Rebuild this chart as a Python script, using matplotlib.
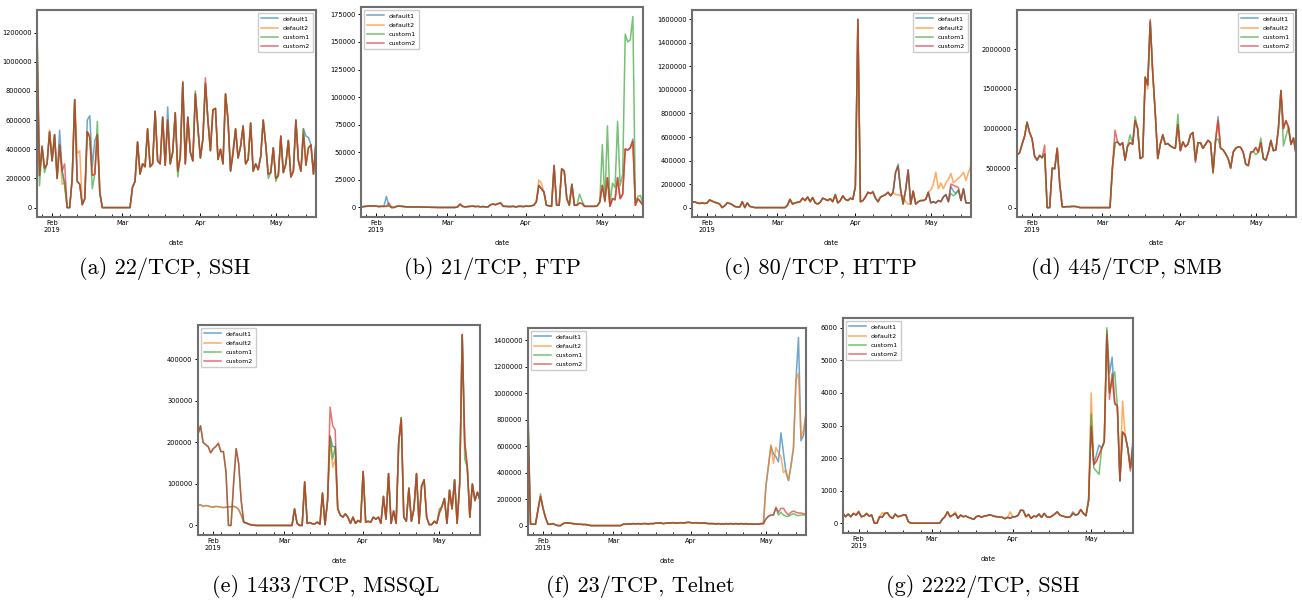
import numpy as np
import pandas as pd
import matplotlib
matplotlib.use('Agg')
import matplotlib.pyplot as plt
import matplotlib.dates as mdates
import matplotlib.ticker as mticker

start = '2019-01-26'
names = ['default1', 'default2', 'custom1', 'custom2']

# (a) 22/TCP, SSH -- thousands
ssh22_base = [1200, 220, 420, 270, 300, 520, 320, 500, 200, 430,
              250, 170, 0, 0, 200, 740, 180, 160, 20, 60,
              520, 480, 220, 230, 500, 100, 0, 0, 0, 0,
              0, 0, 0, 0, 0, 0, 0, 0, 140, 180,
              450, 230, 300, 280, 540, 280, 300, 660, 320, 300,
              620, 290, 600, 300, 380, 650, 250, 350, 860, 300,
              620, 380, 320, 780, 550, 340, 470, 850, 600, 390,
              670, 680, 330, 400, 300, 780, 600, 250, 370, 540,
              340, 420, 560, 300, 330, 580, 250, 300, 260, 350,
              600, 430, 230, 240, 410, 200, 220, 490, 240, 300,
              460, 210, 250, 600, 320, 250, 540, 290, 410, 430, 230, 450]
ssh22_fix = {
    'default1': {9: 530, 20: 600, 21: 630, 22: 280, 23: 460, 52: 690, 78: 400,
                 106: 540, 107: 490, 108: 480},
    'default2': {0: 1290, 5: 530, 10: 160, 16: 370, 17: 390, 21: 500},
    'custom1': {1: 150, 3: 240, 11: 150, 22: 130, 24: 590, 56: 210, 63: 800,
                92: 200, 95: 180},
    'custom2': {0: 1100, 11: 300, 67: 890, 106: 500},
}

# (b) 21/TCP, FTP -- thousands
ftp21_base = [0.5, 0.8, 1.0, 1.2, 1.3, 1.4, 1.2, 0.8, 1.0, 1.0,
              1.0, 1.5, 0, 0, 1.0, 1.2, 1.0, 0.8, 0.5, 0.5,
              0.5, 0.4, 0.4, 0.5, 0.3, 0.3, 0.2, 0.2, 0.1, 0.1,
              0, 0, 0, 0, 0, 0, 0, 0, 0.5, 2.5,
              1.0, 0.5, 0.8, 1.0, 1.2, 0.8, 1.0, 0.6, 0.8, 0.5,
              0.5, 2.5, 3.0, 2.5, 3.5, 4.0, 1.0, 1.0, 0.8, 0.8,
              1.0, 0.5, 1.0, 1.0, 0.8, 1.2, 1.0, 1.5, 2.0, 5.0,
              20, 17, 14, 2, 1.5, 1.0, 38, 2, 2, 35,
              33, 8, 2, 21, 2, 2, 4, 3.5, 1.0, 1.0,
              1.0, 1.0, 1.0, 1.5, 5, 20, 6, 27, 1, 8,
              7, 27, 8, 12, 53, 52, 54, 60, 2, 8, 5, 2]
ftp21_fix = {
    'default1': {10: 10, 107: 62},
    'default2': {70: 25, 71: 22},
    'custom1': {86: 12, 87: 6, 94: 5, 95: 57, 96: 5, 97: 74, 98: 3, 99: 22,
                100: 18, 101: 78, 102: 20, 103: 30, 104: 157, 105: 150,
                106: 152, 107: 173, 108: 5, 109: 10, 110: 11},
    'custom2': {11: 4, 39: 3.5},
}

# (c) 80/TCP, HTTP -- thousands
http80_base = [45, 50, 40, 35, 40, 35, 40, 65, 55, 45,
               40, 30, 0, 15, 40, 35, 25, 10, 5, 5,
               50, 0, 40, 10, 5, 0, 0, 0, 0, 0,
               0, 0, 0, 0, 0, 0, 0, 0, 20, 70,
               30, 40, 45, 50, 80, 60, 90, 50, 85, 40,
               30, 45, 80, 70, 60, 75, 50, 110, 40, 60,
               100, 70, 60, 80, 70, 180, 1600, 50, 60, 90,
               130, 120, 130, 80, 50, 90, 100, 110, 130, 100,
               130, 300, 350, 150, 30, 150, 320, 30, 140, 30,
               50, 60, 60, 70, 130, 40, 50, 40, 60, 50,
               90, 110, 50, 150, 140, 120, 150, 60, 160, 40, 40, 40]
http80_fix = {
    'default1': {82: 370, 103: 180},
    'default2': {81: 110, 82: 110, 83: 100, 84: 100, 85: 50, 86: 30,
                 95: 150, 96: 200, 97: 300, 98: 160, 99: 210, 100: 160,
                 101: 210, 102: 240, 103: 290, 104: 210, 105: 230, 106: 250,
                 107: 270, 108: 300, 109: 230, 110: 300, 111: 360},
    'custom1': {72: 140, 103: 120, 104: 100},
    'custom2': {103: 200, 104: 190, 105: 180, 106: 170},
}

# (d) 445/TCP, SMB -- thousands
smb445_base = [670, 690, 800, 900, 1080, 950, 870, 650, 600, 660,
               630, 680, 0, 0, 500, 490, 750, 300, 10, 10,
               12, 12, 15, 15, 10, 0, 0, 0, 0, 0,
               0, 0, 0, 0, 0, 0, 0, 0, 520, 820,
               830, 790, 820, 600, 780, 820, 800, 1100, 1000, 620,
               640, 1650, 1550, 2350, 1700, 1200, 620, 800, 920, 800,
               810, 780, 760, 750, 1050, 720, 830, 770, 800, 920,
               950, 600, 820, 820, 750, 800, 850, 820, 450, 850,
               1100, 750, 730, 680, 620, 500, 700, 750, 770, 760,
               700, 550, 530, 700, 710, 760, 700, 820, 620, 600,
               700, 850, 720, 730, 1000, 1480, 1000, 1100, 1020, 800, 880, 680]
smb445_fix = {
    'default1': {80: 1150},
    'default2': {52: 1500},
    'custom1': {45: 920, 47: 1150, 64: 1180, 78: 430, 80: 870, 95: 670,
                97: 880, 106: 780, 107: 900},
    'custom2': {11: 790, 39: 980, 53: 2380, 71: 570},
}

# (e) 1433/TCP, MSSQL -- thousands
mssql_base = [220, 240, 200, 195, 190, 175, 185, 190, 198, 178,
              178, 130, 0, 0, 100, 185, 150, 60, 8, 6,
              3, 1.5, 0.5, 0, 0, 0, 0, 0, 0, 0,
              0, 0, 0, 0, 0, 0, 0, 0, 40, 5,
              0, 0, 105, 5, 7, 4, 4, 8, 3, 78,
              2, 60, 215, 160, 190, 40, 25, 20, 28, 20,
              5, 20, 5, 12, 8, 130, 8, 10, 8, 20,
              15, 20, 5, 70, 15, 125, 5, 35, 5, 200,
              260, 20, 10, 90, 10, 40, 125, 5, 95, 110,
              20, 2, 2, 10, 5, 30, 45, 65, 5, 85,
              40, 110, 5, 100, 460, 200, 140, 20, 100, 60, 80, 60]
mssql_low = {0: 48, 1: 50, 2: 46, 3: 48, 4: 47, 5: 45, 6: 44, 7: 46, 8: 45,
             9: 44, 10: 43, 11: 44, 12: 45, 13: 45, 14: 46, 15: 44, 16: 38,
             17: 25}
mssql_fix = {
    'default1': {**mssql_low, 53: 190},
    'default2': {**mssql_low, 53: 140, 54: 160},
    'custom1': {95: 40, 105: 160},
    'custom2': {52: 285, 53: 240, 54: 230, 80: 255},
}

# (f) 23/TCP, Telnet -- thousands
telnet_base = [800, 10, 10, 10, 120, 220, 130, 60, 10, 10,
               15, 5, 0, 0, 15, 20, 20, 18, 15, 12,
               10, 10, 8, 8, 5, 0, 0, 0, 0, 0,
               0, 0, 0, 0, 0, 0, 0, 0, 10, 10,
               12, 12, 15, 12, 15, 12, 15, 15, 12, 15,
               15, 18, 18, 20, 15, 18, 20, 20, 22, 18,
               20, 22, 20, 22, 25, 22, 20, 22, 20, 18,
               20, 18, 15, 15, 15, 12, 15, 12, 12, 15,
               12, 15, 12, 15, 12, 15, 12, 15, 10, 12,
               10, 12, 10, 15, 15, 50, 70, 80, 80, 130,
               80, 100, 80, 70, 70, 80, 90, 80, 75, 80, 80, 80]
telnet_fix = {
    'default1': {95: 300, 96: 450, 97: 600, 98: 540, 99: 520, 100: 480,
                 101: 700, 102: 550, 103: 400, 104: 340, 105: 450, 106: 580,
                 107: 1100, 108: 1420, 109: 640, 110: 680, 111: 850},
    'default2': {0: 700, 95: 300, 96: 450, 97: 610, 98: 470, 99: 590,
                 100: 550, 101: 520, 102: 400, 103: 420, 104: 340, 105: 450,
                 106: 600, 107: 1100, 108: 1150, 109: 660, 110: 720, 111: 850},
    'custom1': {0: 900, 5: 240},
    'custom2': {99: 140, 100: 100, 101: 130, 102: 130, 103: 100, 104: 80,
                105: 100, 106: 110, 107: 100, 108: 95, 109: 95, 110: 90,
                111: 90},
}

# (g) 2222/TCP, SSH -- raw counts
ssh2222_base = [300, 200, 280, 200, 300, 250, 350, 200, 220, 300,
                220, 250, 0, 0, 200, 180, 300, 320, 200, 150,
                280, 200, 220, 250, 260, 50, 0, 0, 0, 0,
                0, 0, 0, 0, 0, 0, 0, 0, 120, 200,
                350, 200, 250, 300, 150, 250, 200, 220, 180, 150,
                120, 200, 230, 180, 220, 230, 260, 240, 210, 200,
                190, 180, 140, 180, 150, 200, 200, 240, 400, 390,
                200, 270, 150, 220, 200, 280, 180, 300, 200, 180,
                220, 280, 350, 250, 220, 200, 180, 200, 300, 250,
                280, 420, 300, 230, 700, 3000, 1800, 1900, 2100, 2300,
                2500, 5900, 4000, 4400, 3700, 3600, 1300, 2800, 2700, 2300, 1700, 2400]
ssh2222_fix = {
    'default1': {88: 350, 97: 2100, 98: 2400, 102: 4600, 103: 5100, 104: 3650,
                 111: 2600},
    'default2': {6: 380, 15: 320, 43: 350, 64: 350, 95: 4000, 107: 3750},
    'custom1': {95: 3350, 96: 1700, 97: 1600, 98: 1500, 101: 6000, 104: 4650},
    'custom2': {95: 2950, 101: 5800, 102: 3800, 103: 4600, 110: 1600},
}

captions = ['(a) 22/TCP, SSH', '(b) 21/TCP, FTP', '(c) 80/TCP, HTTP',
            '(d) 445/TCP, SMB', '(e) 1433/TCP, MSSQL', '(f) 23/TCP, Telnet',
            '(g) 2222/TCP, SSH']
datasets = [(ssh22_base, ssh22_fix, 1000), (ftp21_base, ftp21_fix, 1000),
            (http80_base, http80_fix, 1000), (smb445_base, smb445_fix, 1000),
            (mssql_base, mssql_fix, 1000), (telnet_base, telnet_fix, 1000),
            (ssh2222_base, ssh2222_fix, 1)]

# layout (pixels of a 1302x603 figure): left, top, right, bottom
W, H = 1302, 603
boxes = [(37, 10, 316, 217), (361, 7, 643, 217), (692, 10, 971, 217),
         (1017, 10, 1296, 217), (198, 325, 480, 535), (528, 328, 806, 535),
         (843, 318, 1133, 533)]
cap_pos = [(165, 268), (492, 268), (820, 268), (1127, 268),
           (326, 587), (640, 587), (983, 587)]
leg_loc = ['upper right', 'upper left', 'upper right', 'upper right',
           'upper left', 'upper left', 'upper left']
ysteps = [200000, 25000, 200000, 500000, 100000, 200000, 1000]


def build(base, fix, unit):
    out = {}
    for n in names:
        v = np.array(base, dtype=float)
        for i, y in fix.get(n, {}).items():
            v[i] = y
        out[n] = v * unit
    return out


def month_label(x, pos):
    d = mdates.num2date(x)
    if d.month == 2:
        return d.strftime('%b') + '\n2019'
    return d.strftime('%b')


fig = plt.figure(figsize=(13.02, 6.03), dpi=100)
colors = ['C0', 'C1', 'C2', 'C3']

for k in range(7):
    base, fix, unit = datasets[k]
    series = build(base, fix, unit)
    dates = pd.date_range(start, periods=len(base), freq='D')
    l, t, r, b = boxes[k]
    ax = fig.add_axes([l / W, 1 - b / H, (r - l) / W, (b - t) / H])
    for n, c in zip(names, colors):
        ax.plot(dates, series[n], color=c, lw=1.1, alpha=0.65, label=n)
    ax.set_xlim(dates[0], dates[-1])
    ax.xaxis.set_major_locator(mdates.MonthLocator())
    ax.xaxis.set_minor_locator(mdates.WeekdayLocator(byweekday=mdates.MO))
    ax.xaxis.set_major_formatter(mticker.FuncFormatter(month_label))
    ax.yaxis.set_major_locator(mticker.MultipleLocator(ysteps[k]))
    ax.ticklabel_format(axis='y', style='plain', useOffset=False)
    ax.tick_params(axis='x', which='major', direction='in', length=3,
                   width=0.7, labelsize=4.8, pad=2)
    ax.tick_params(axis='x', which='minor', direction='in', length=2,
                   width=0.6)
    ax.tick_params(axis='y', direction='out', length=2, width=0.7,
                   labelsize=4.8, pad=2)
    for s in ax.spines.values():
        s.set_color('#6e6e6e')
        s.set_linewidth(1.5)
    ax.set_xlabel('date', fontsize=4.8, labelpad=5)
    ax.legend(loc=leg_loc[k], fontsize=4.5, framealpha=1, edgecolor='#cccccc',
              fancybox=False, handlelength=2.6, borderpad=0.5,
              labelspacing=0.6)
    cx, cy = cap_pos[k]
    fig.text(cx / W, 1 - cy / H, captions[k], ha='center', va='center',
             fontsize=16, family='cmr10')

fig.savefig('out.png', dpi=100)
